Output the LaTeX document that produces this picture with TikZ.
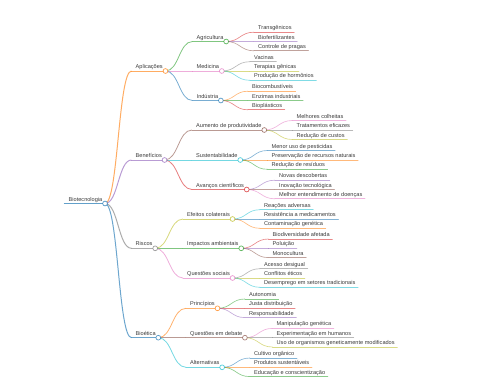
\documentclass[tikz,border=0pt]{standalone}
\usepackage{fontspec}
\setmainfont{Liberation Sans}
\usetikzlibrary{calc}
\definecolor{cA}{HTML}{1F77B4}
\definecolor{cB}{HTML}{FF7F0E}
\definecolor{cC}{HTML}{2CA02C}
\definecolor{cD}{HTML}{D62728}
\definecolor{cE}{HTML}{9467BD}
\definecolor{cF}{HTML}{8C564B}
\definecolor{cG}{HTML}{E377C2}
\definecolor{cH}{HTML}{7F7F7F}
\definecolor{cI}{HTML}{BCBD22}
\definecolor{cJ}{HTML}{17BECF}
\definecolor{txtc}{HTML}{3A3A3A}
\tikzset{
  txt/.style={font=\fontsize{5.6}{6.7}\selectfont, text=txtc, inner xsep=2.5pt, inner ysep=1.1pt, text height=4.1pt, text depth=1.2pt},
  lzero/.style={line width=1.2pt, draw opacity=0.7},
  lone/.style={line width=1.0pt, draw opacity=0.65},
  ltwo/.style={line width=0.8pt, draw opacity=0.6},
  lthree/.style={line width=0.65pt, draw opacity=0.55},
  dotnode/.style={circle, fill=white, line width=0.7pt, minimum size=4.8pt, inner sep=0pt, draw opacity=0.75}
}
% node: name, x, y, color, width style, text
\newcommand\mmn[6]{%
  \node[txt, anchor=south west] (#1) at (#2,#3) {\hspace*{1.5pt}#6};
  \draw[#5, draw=#4, line cap=round] (#1.south west) -- (#1.south east);
}
% link: parent, child, color, width style
\newcommand\mml[4]{%
  \path ($(#1.south east)!0.5!(#2.south west)$) coordinate (#2-m);
  \draw[#4, draw=#3] (#1.south east) .. controls (#2-m |- #1.south east) and (#2-m |- #2.south west) .. (#2.south west);
}
% dot: name, color
\newcommand\mmd[2]{%
  \node[dotnode, draw=#2] (#1-dot) at (#1.south east) {};
}
\begin{document}
\begin{tikzpicture}[x=1pt,y=-1pt]
\useasboundingbox (0,0) rectangle (480,384);
% root
\mmn{R0}{64.5}{203.5}{cA}{lzero}{Biotecnologia}
% level 1
\mmn{A}{131.5}{71}{cB}{lone}{Aplicações}
\mmn{B}{131.5}{160}{cE}{lone}{Benefícios}
\mmn{R}{131.5}{248.3}{cH}{lone}{Riscos}
\mmn{E}{131.5}{337.7}{cA}{lone}{Bioética}
% level 2
\mmn{A1}{192.5}{41.5}{cC}{ltwo}{Agricultura}
\mmn{A2}{192.5}{71}{cG}{ltwo}{Medicina}
\mmn{A3}{192.5}{100.5}{cA}{ltwo}{Indústria}
\mmn{B1}{192}{130}{cF}{ltwo}{Aumento de produtividade}
\mmn{B2}{192}{160}{cJ}{ltwo}{Sustentabilidade}
\mmn{B3}{192}{189.5}{cD}{ltwo}{Avanços científicos}
\mmn{R1}{183}{219}{cI}{ltwo}{Efeitos colaterais}
\mmn{R2}{183}{248.3}{cC}{ltwo}{Impactos ambientais}
\mmn{R3}{183}{278}{cG}{ltwo}{Questões sociais}
\mmn{E1}{186}{308.3}{cB}{ltwo}{Princípios}
\mmn{E2}{186}{337.7}{cF}{ltwo}{Questões em debate}
\mmn{E3}{186}{367.3}{cJ}{ltwo}{Alternativas}
% level 3
\mmn{A1a}{254}{32.2}{cD}{lthree}{Transgênicos}
\mmn{A1b}{254}{41.5}{cE}{lthree}{Biofertilizantes}
\mmn{A1c}{254}{50.8}{cF}{lthree}{Controle de pragas}
\mmn{A2a}{250}{61.7}{cH}{lthree}{Vacinas}
\mmn{A2b}{250}{71}{cI}{lthree}{Terapias gênicas}
\mmn{A2c}{250}{80.3}{cJ}{lthree}{Produção de hormônios}
\mmn{A3a}{248}{91.2}{cB}{lthree}{Biocombustíveis}
\mmn{A3b}{248}{100.5}{cC}{lthree}{Enzimas industriais}
\mmn{A3c}{248}{109.8}{cD}{lthree}{Bioplásticos}
\mmn{B1a}{292.5}{120.5}{cG}{lthree}{Melhores colheitas}
\mmn{B1b}{292.5}{130}{cH}{lthree}{Tratamentos eficazes}
\mmn{B1c}{292.5}{139.5}{cI}{lthree}{Redução de custos}
\mmn{B2a}{267.5}{150.5}{cA}{lthree}{Menor uso de pesticidas}
\mmn{B2b}{267.5}{160}{cB}{lthree}{Preservação de recursos naturais}
\mmn{B2c}{267.5}{169.3}{cC}{lthree}{Redução de resíduos}
\mmn{B3a}{275}{180.2}{cE}{lthree}{Novas descobertas}
\mmn{B3b}{275}{189.5}{cF}{lthree}{Inovação tecnológica}
\mmn{B3c}{275}{198.8}{cG}{lthree}{Melhor entendimento de doenças}
\mmn{R1a}{260}{209.7}{cJ}{lthree}{Reações adversas}
\mmn{R1b}{260}{219}{cA}{lthree}{Resistência a medicamentos}
\mmn{R1c}{260}{228.3}{cB}{lthree}{Contaminação genética}
\mmn{R2a}{268.5}{239}{cD}{lthree}{Biodiversidade afetada}
\mmn{R2b}{268.5}{248.3}{cE}{lthree}{Poluição}
\mmn{R2c}{268.5}{257.6}{cF}{lthree}{Monocultura}
\mmn{R3a}{260}{268.7}{cH}{lthree}{Acesso desigual}
\mmn{R3b}{260}{278}{cI}{lthree}{Conflitos éticos}
\mmn{R3c}{260}{287.3}{cJ}{lthree}{Desemprego em setores tradicionais}
\mmn{E1a}{245}{299}{cC}{lthree}{Autonomia}
\mmn{E1b}{245}{308.3}{cD}{lthree}{Justa distribuição}
\mmn{E1c}{245}{317.6}{cE}{lthree}{Responsabilidade}
\mmn{E2a}{272.5}{328.4}{cG}{lthree}{Manipulação genética}
\mmn{E2b}{272.5}{337.7}{cH}{lthree}{Experimentação em humanos}
\mmn{E2c}{272.5}{347}{cI}{lthree}{Uso de organismos geneticamente modificados}
\mmn{E3a}{250}{358}{cA}{lthree}{Cultivo orgânico}
\mmn{E3b}{250}{367.3}{cB}{lthree}{Produtos sustentáveis}
\mmn{E3c}{250}{376.6}{cC}{lthree}{Educação e conscientização}
% links
\mml{R0}{A}{cB}{lone}
\mml{R0}{B}{cE}{lone}
\mml{R0}{R}{cH}{lone}
\mml{R0}{E}{cA}{lone}
\mml{A}{A1}{cC}{ltwo}
\mml{A}{A2}{cG}{ltwo}
\mml{A}{A3}{cA}{ltwo}
\mml{B}{B1}{cF}{ltwo}
\mml{B}{B2}{cJ}{ltwo}
\mml{B}{B3}{cD}{ltwo}
\mml{R}{R1}{cI}{ltwo}
\mml{R}{R2}{cC}{ltwo}
\mml{R}{R3}{cG}{ltwo}
\mml{E}{E1}{cB}{ltwo}
\mml{E}{E2}{cF}{ltwo}
\mml{E}{E3}{cJ}{ltwo}
\mml{A1}{A1a}{cD}{lthree}
\mml{A1}{A1b}{cE}{lthree}
\mml{A1}{A1c}{cF}{lthree}
\mml{A2}{A2a}{cH}{lthree}
\mml{A2}{A2b}{cI}{lthree}
\mml{A2}{A2c}{cJ}{lthree}
\mml{A3}{A3a}{cB}{lthree}
\mml{A3}{A3b}{cC}{lthree}
\mml{A3}{A3c}{cD}{lthree}
\mml{B1}{B1a}{cG}{lthree}
\mml{B1}{B1b}{cH}{lthree}
\mml{B1}{B1c}{cI}{lthree}
\mml{B2}{B2a}{cA}{lthree}
\mml{B2}{B2b}{cB}{lthree}
\mml{B2}{B2c}{cC}{lthree}
\mml{B3}{B3a}{cE}{lthree}
\mml{B3}{B3b}{cF}{lthree}
\mml{B3}{B3c}{cG}{lthree}
\mml{R1}{R1a}{cJ}{lthree}
\mml{R1}{R1b}{cA}{lthree}
\mml{R1}{R1c}{cB}{lthree}
\mml{R2}{R2a}{cD}{lthree}
\mml{R2}{R2b}{cE}{lthree}
\mml{R2}{R2c}{cF}{lthree}
\mml{R3}{R3a}{cH}{lthree}
\mml{R3}{R3b}{cI}{lthree}
\mml{R3}{R3c}{cJ}{lthree}
\mml{E1}{E1a}{cC}{lthree}
\mml{E1}{E1b}{cD}{lthree}
\mml{E1}{E1c}{cE}{lthree}
\mml{E2}{E2a}{cG}{lthree}
\mml{E2}{E2b}{cH}{lthree}
\mml{E2}{E2c}{cI}{lthree}
\mml{E3}{E3a}{cA}{lthree}
\mml{E3}{E3b}{cB}{lthree}
\mml{E3}{E3c}{cC}{lthree}
% dots
\mmd{R0}{cA}
\mmd{A}{cB}
\mmd{B}{cE}
\mmd{R}{cH}
\mmd{E}{cA}
\mmd{A1}{cC}
\mmd{A2}{cG}
\mmd{A3}{cA}
\mmd{B1}{cF}
\mmd{B2}{cJ}
\mmd{B3}{cD}
\mmd{R1}{cI}
\mmd{R2}{cC}
\mmd{R3}{cG}
\mmd{E1}{cB}
\mmd{E2}{cF}
\mmd{E3}{cJ}
\end{tikzpicture}
\end{document}
